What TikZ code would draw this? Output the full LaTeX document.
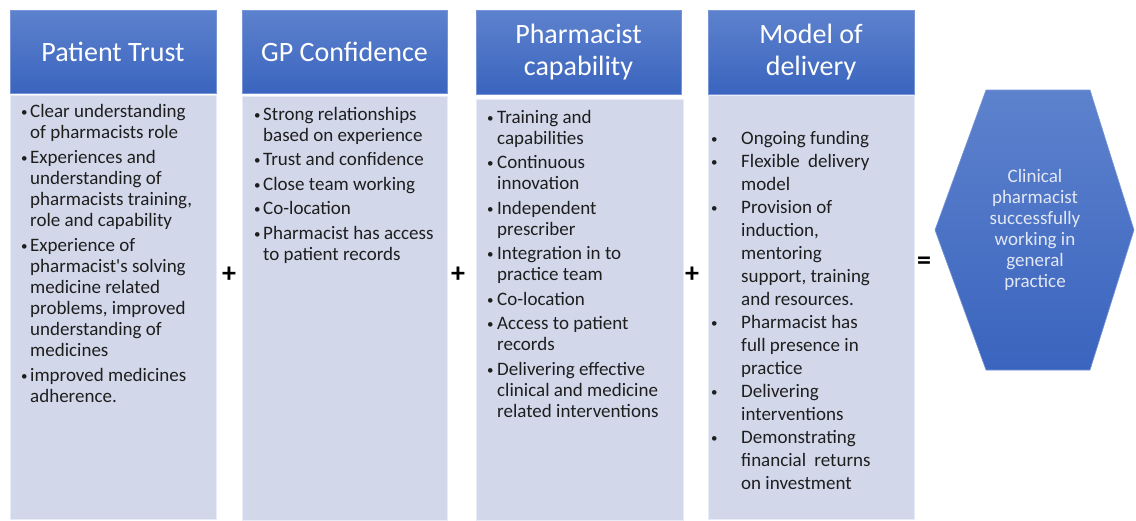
\documentclass[tikz,border=0pt]{standalone}
\usepackage{fontspec}
\setmainfont{Carlito}
\usepackage{array}

\definecolor{headtop}{RGB}{93,130,205}
\definecolor{headbot}{RGB}{58,100,190}
\definecolor{headline}{RGB}{120,150,215}
\definecolor{bodyfill}{RGB}{210,216,234}
\definecolor{bodyline}{RGB}{232,236,247}
\definecolor{bodytext}{RGB}{30,30,30}
\definecolor{hextext}{RGB}{226,231,244}

% small list bullet
\newcommand{\lbul}{\raisebox{0.6pt}{\fontsize{13}{13}\selectfont\textbullet}}

\begin{document}
\begin{tikzpicture}
[
x=1pt, y=-1pt,
headbox/.style={rectangle, draw=headline, line width=0.6pt, top color=headtop, bottom color=headbot, text=white, align=center, inner sep=0, font=\fontsize{28}{32}\selectfont},
bodybox/.style={rectangle, draw=bodyline, line width=0.6pt, fill=bodyfill, anchor=north west, inner sep=0},
itemtext/.style={anchor=base west, inner sep=0, text=bodytext, font=\fontsize{19}{21}\selectfont},
sign/.style={inner sep=0, text=black, font=\fontsize{28}{28}\selectfont\bfseries}
]
\useasboundingbox (0,0) rectangle (1136,520);

%Headers
\node[headbox, minimum width=206pt, minimum height=83pt]	(trust) at(113,51.5) {Patient Trust};
\node[headbox, minimum width=205pt, minimum height=83pt]	(gp) at(344.5,51.5) {GP Confidence};
\node[headbox, minimum width=205pt, minimum height=84pt]	(capab) at(578.5,52) {Pharmacist\\capability};
\node[headbox, minimum width=206pt, minimum height=84pt]	(model) at(811,52) {Model of\\delivery};

%Column bodies
\node[bodybox, minimum width=206pt, minimum height=424pt]	(trustbody) at(10,95) {};
\node[bodybox, minimum width=205pt, minimum height=424pt]	(gpbody) at(242,96) {};
\node[bodybox, minimum width=207pt, minimum height=421pt]	(capabbody) at(476,99) {};
\node[bodybox, minimum width=206pt, minimum height=424pt]	(modelbody) at(708,95) {};

%Bullet lists
\node[itemtext]	(trustlist) at(21,117) {\begin{tabular}[t]{@{}p{9pt}@{}l@{}}
\lbul & Clear understanding\\
 & of pharmacists role\\[4pt]
\lbul & Experiences and\\
 & understanding of\\
 & pharmacists training,\\
 & role and capability\\[4pt]
\lbul & Experience of\\
 & pharmacist\textquotesingle s solving\\
 & medicine related\\
 & problems, improved\\
 & understanding of\\
 & medicines\\[4pt]
\lbul & improved medicines\\
 & adherence.
\end{tabular}};
\node[itemtext]	(gplist) at(254,120) {\begin{tabular}[t]{@{}p{9pt}@{}l@{}}
\lbul & Strong relationships\\
 & based on experience\\[3.5pt]
\lbul & Trust and confidence\\[3.5pt]
\lbul & Close team working\\[3.5pt]
\lbul & Co-location\\[3.5pt]
\lbul & Pharmacist has access\\
 & to patient records
\end{tabular}};
\node[itemtext]	(capablist) at(487,123) {\begin{tabular}[t]{@{}p{10pt}@{}l@{}}
\lbul & Training and\\
 & capabilities\\[3.5pt]
\lbul & Continuous\\
 & innovation\\[3.5pt]
\lbul & Independent\\
 & prescriber\\[3.5pt]
\lbul & Integration in to\\
 & practice team\\[3.5pt]
\lbul & Co-location\\[3.5pt]
\lbul & Access to patient\\
 & records\\[3.5pt]
\lbul & Delivering effective\\
 & clinical and medicine\\
 & related interventions
\end{tabular}};
\node[itemtext, font=\fontsize{19}{23}\selectfont]	(modellist) at(711,144) {\begin{tabular}[t]{@{}p{30pt}@{}l@{}}
\lbul & Ongoing funding\\
\lbul & Flexible\hspace{4pt} delivery\\
 & model\\
\lbul & Provision of\\
 & induction,\\
 & mentoring\\
 & support, training\\
 & and resources.\\
\lbul & Pharmacist has\\
 & full presence in\\
 & practice\\
\lbul & Delivering\\
 & interventions\\
\lbul & Demonstrating\\
 & financial\hspace{4pt} returns\\
 & on investment
\end{tabular}};

%Outcome
\shade[top color=headtop, bottom color=headbot, draw=headline, line width=0.6pt]
  (935,230) -- (986,90) -- (1090,90) -- (1134,230) -- (1090,370) -- (986,370) -- cycle;
\node[align=center, text=hextext, font=\fontsize{19}{21}\selectfont]	(outcome) at(1035,230) {Clinical\\pharmacist\\successfully\\working in\\general\\practice};

%Operators
\node[sign]	(plus1) at(229,275) {+};
\node[sign]	(plus2) at(458,275) {+};
\node[sign]	(plus3) at(692,275) {+};
\node[sign]	(equals) at(924,263) {=};

\end{tikzpicture}
\end{document}
